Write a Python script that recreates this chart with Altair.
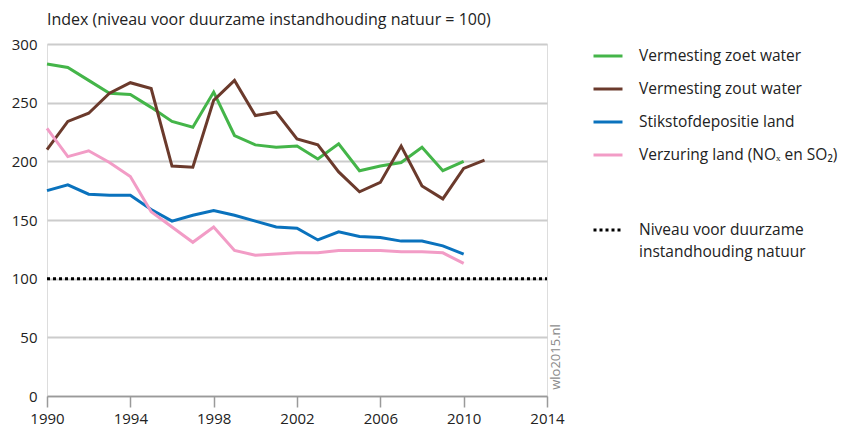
import altair as alt
import pandas as pd

years = list(range(1990, 2012))
zoet_water = [283, 280, 269, 258, 257, 246, 234, 229, 259, 222, 214, 212, 213, 202, 215, 192, 196, 199, 212, 192, 200, None]
zout_water = [210, 234, 241, 258, 267, 262, 196, 195, 252, 269, 239, 242, 219, 214, 191, 174, 182, 213, 179, 168, 194, 201]
stikstof = [175, 180, 172, 171, 171, 159, 149, 154, 158, 154, 149, 144, 143, 133, 140, 136, 135, 132, 132, 128, 121, None]
verzuring = [228, 204, 209, 199, 187, 157, 144, 131, 144, 124, 120, 121, 122, 122, 124, 124, 124, 123, 123, 122, 113, None]

series_names = [
    "Vermesting zoet water",
    "Vermesting zout water",
    "Stikstofdepositie land",
    "Verzuring land (NOₓ en SO₂)",
]
series_colors = ["#44b549", "#6b3a2c", "#0a72bd", "#f29cc6"]

norm_years = [1990, 2014]
norm_value = [100, 100]
norm_label = "Niveau voor duurzame|instandhouding natuur"

x_ticks = [1990, 1994, 1998, 2002, 2006, 2010, 2014]
y_ticks = [0, 50, 100, 150, 200, 250, 300]

title_text = "Index (niveau voor duurzame instandhouding natuur = 100)"
watermark = "wlo2015.nl"

rows = []
for name, vals in zip(series_names, [zoet_water, zout_water, stikstof, verzuring]):
    for y, v in zip(years, vals):
        if v is not None:
            rows.append({"jaar": y, "index": v, "reeks": name})
df = pd.DataFrame(rows)
norm_df = pd.DataFrame({"jaar": norm_years, "index": norm_value, "reeks": [norm_label] * 2})

FONT = "Open Sans"

x_scale = alt.Scale(domain=[1990, 2014], nice=False, zero=False)
y_scale = alt.Scale(domain=[0, 300], nice=False)

x_axis = alt.Axis(
    values=x_ticks, format="d", title=None, grid=False,
    domainColor="#9a9a9a", domainWidth=1.5, tickColor="#9a9a9a", tickWidth=1.5,
    tickSize=11, labelPadding=4, labelFontSize=15, labelColor="#222222",
    labelFont=FONT, labelFlush=False,
)
y_axis = alt.Axis(
    values=y_ticks, title=None, grid=True, gridColor="#cccccc", gridWidth=2,
    domain=False, ticks=False, labelPadding=10, labelFontSize=15,
    labelColor="#222222", labelFont=FONT,
)

lines = alt.Chart(df).mark_line(strokeWidth=3, strokeJoin="miter", strokeCap="butt").encode(
    x=alt.X("jaar:Q", scale=x_scale, axis=x_axis),
    y=alt.Y("index:Q", scale=y_scale, axis=y_axis),
    color=alt.Color(
        "reeks:N",
        scale=alt.Scale(domain=series_names, range=series_colors),
        legend=alt.Legend(
            title=None, orient="none", legendX=545, legendY=-4,
            symbolType="stroke", symbolSize=841, symbolStrokeWidth=3,
            labelFontSize=15.5, labelFont=FONT, labelColor="#222222",
            labelOffset=15, rowPadding=8, padding=0, labelLimit=400,
        ),
        sort=series_names,
    ),
)

norm = alt.Chart(norm_df).mark_line(strokeWidth=3, color="black").encode(
    x=alt.X("jaar:Q", scale=x_scale),
    y=alt.Y("index:Q", scale=y_scale),
    strokeDash=alt.StrokeDash(
        "reeks:N",
        scale=alt.Scale(domain=[norm_label], range=[[3, 3]]),
        legend=alt.Legend(
            title=None, orient="none", legendX=545, legendY=170,
            symbolType="stroke", symbolSize=841, symbolStrokeWidth=3,
            symbolStrokeColor="black",
            labelFontSize=15.5, labelFont=FONT, labelColor="#222222",
            labelOffset=15, padding=0, labelLimit=400,
            labelExpr="split(datum.label, '|')",
        ),
    ),
)

wm = alt.Chart(pd.DataFrame({"t": [watermark]})).mark_text(
    angle=270, fontSize=13, color="#8a8a8a", font=FONT, align="center", baseline="middle"
).encode(x=alt.value(509), y=alt.value(313), text="t:N")

chart = alt.layer(lines, norm, wm).properties(
    width=500,
    height=352,
    title=alt.TitleParams(title_text, anchor="start", frame="group", fontSize=16,
                          font=FONT, fontWeight="normal", color="#222222", offset=9),
    autosize=alt.AutoSizeParams(type="none"),
    padding={"left": 39, "top": 36, "right": 296, "bottom": 30},
).configure_view(stroke=None).configure(style={"guide-label": {"lineHeight": 22}})

chart.save("out.html", embed_options={"renderer": "svg", "actions": False})
